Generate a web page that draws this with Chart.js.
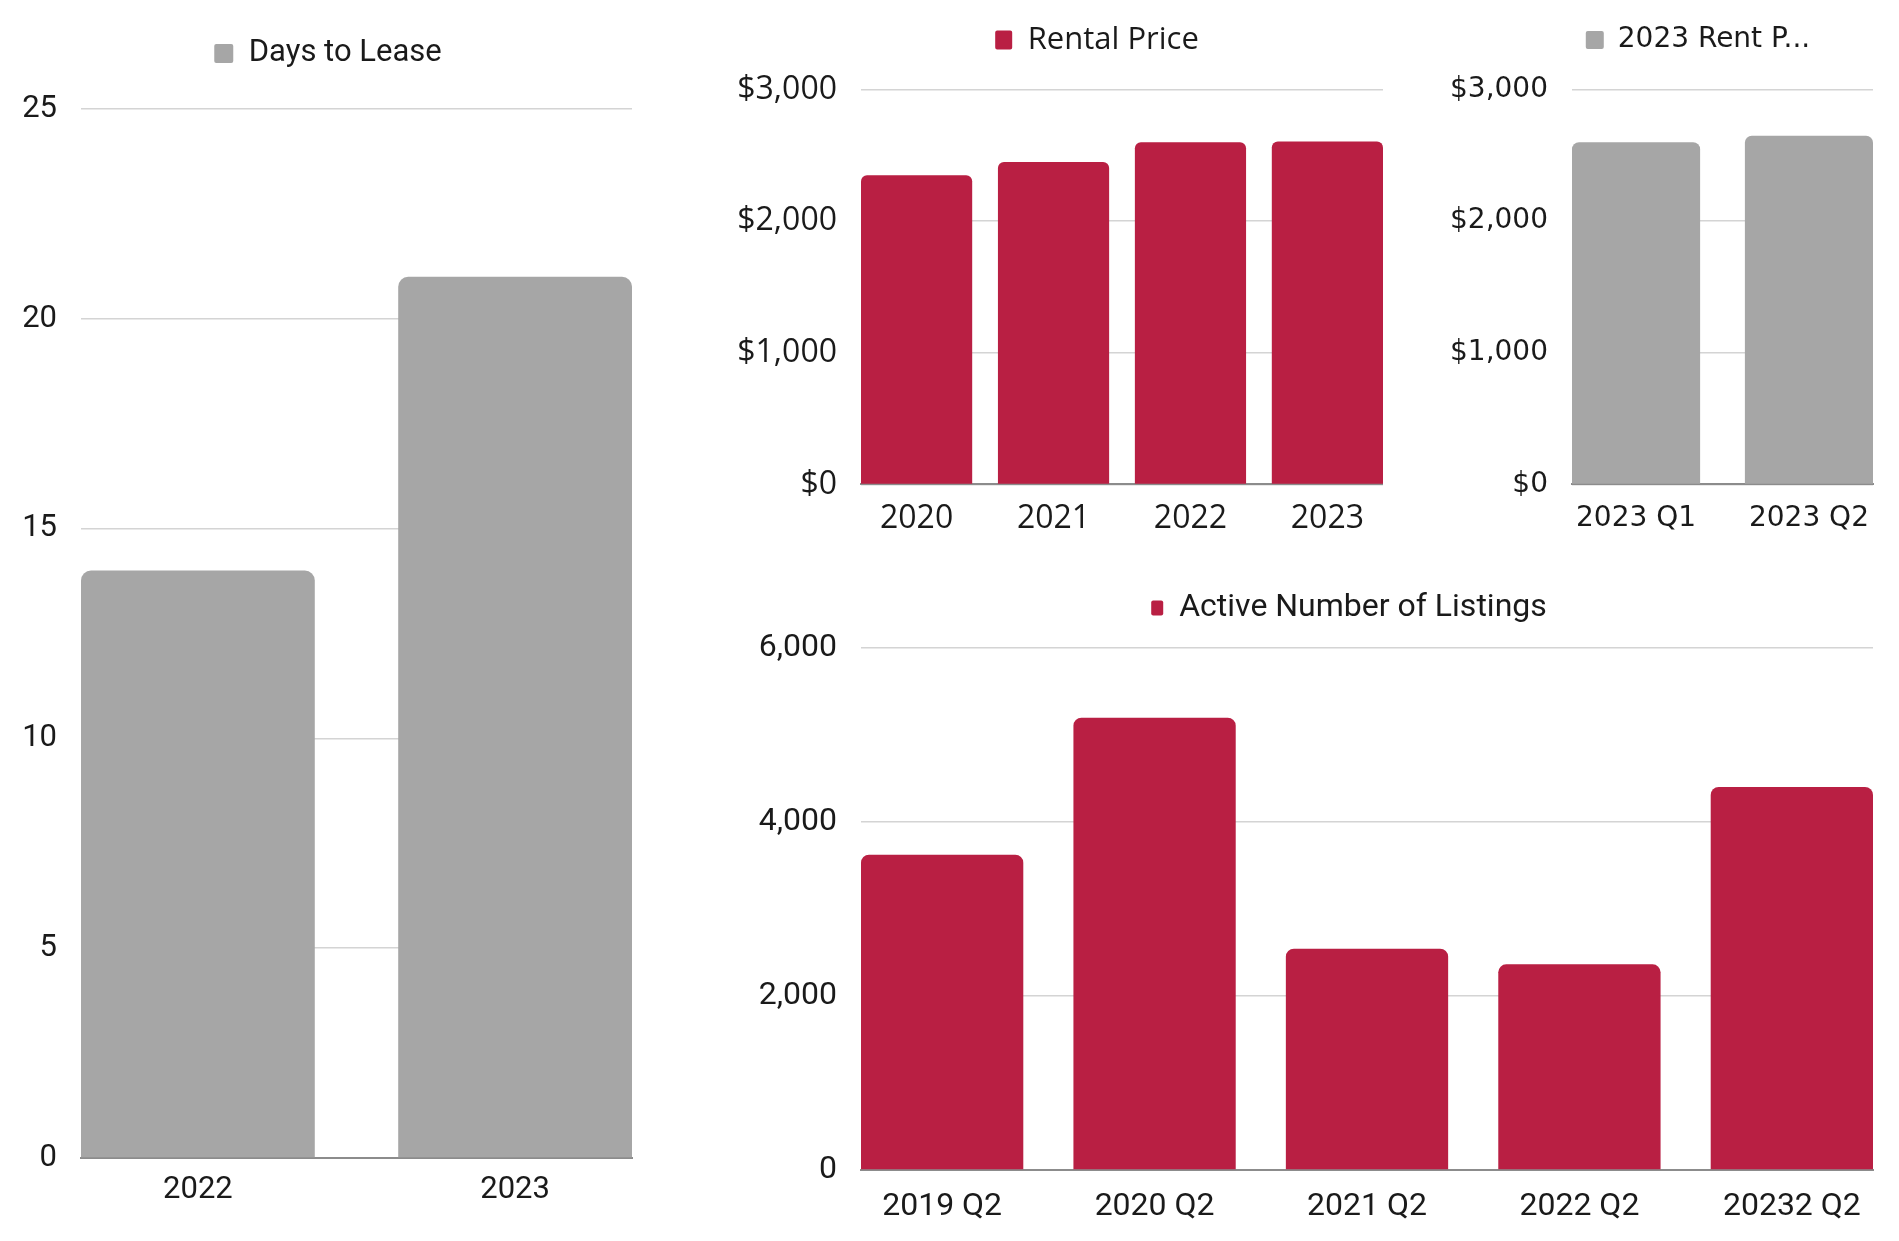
<!DOCTYPE html>
<html>
<head>
<meta charset="utf-8">
<script src="https://cdn.jsdelivr.net/npm/chart.js@4.4.1/dist/chart.umd.min.js"></script>
<style>
  html, body { margin: 0; padding: 0; background: #fff; width: 1899px; height: 1241px; overflow: hidden; }
  canvas { position: absolute; }
</style>
</head>
<body>
<canvas id="c-days" width="680" height="1241" style="left:0;top:0"></canvas>
<canvas id="c-rent" width="683" height="560" style="left:700px;top:0"></canvas>
<canvas id="c-rent23" width="479" height="560" style="left:1420px;top:0"></canvas>
<canvas id="c-listings" width="1199" height="681" style="left:700px;top:560px"></canvas>
<script>
// ── DATA ────────────────────────────────────────────────────
const leaseYears      = ['2022', '2023'];
const daysToLease     = [14, 21];
const daysTicks       = [0, 5, 10, 15, 20, 25];

const rentYears       = ['2020', '2021', '2022', '2023'];
const rentalPrice     = [2350, 2450, 2600, 2605];
const rentTicks       = [0, 1000, 2000, 3000];

const rentQuarters    = ['2023 Q1', '2023 Q2'];
const rentPrice2023   = [2600, 2650];

const listingQuarters = ['2019 Q2', '2020 Q2', '2021 Q2', '2022 Q2', '20232 Q2'];
const activeListings  = [3625, 5200, 2545, 2365, 4405];
const listingTicks    = [0, 2000, 4000, 6000];

// ── STYLE ───────────────────────────────────────────────────
const red = '#B91F43', grey = '#A6A6A6';
const gridCol = '#D4D4D4', baseCol = '#8C8C8C';
const ink = '#1A1A1A';

// legend sits further above the plot than Chart.js does by default,
// and is centred on its own x rather than on the padded canvas
function legendTweak(gap, centerX) {
  return {
    id: 'legendTweak',
    beforeInit(chart) {
      if (!chart.legend) return;
      const fit = chart.legend.fit;
      chart.legend.fit = function () { fit.call(this); this.height += gap; };
    },
    afterLayout(chart) {
      const l = chart.legend;
      if (!l) return;
      const dx = centerX - (l.left + l.right) / 2;
      l.left += dx; l.right += dx;
    }
  };
}

// bars flush with both ends of the plot, like the source charts
function flushBars(id, o) {
  const n = o.labels.length;
  const font = { family: o.family, size: o.size };
  const tickFont = { family: o.family, size: o.tickSize || o.size };
  return new Chart(document.getElementById(id), {
    type: 'bar',
    data: {
      datasets: [{
        label: o.label,
        data: o.values.map((v, i) => ({ x: i, y: v })),
        backgroundColor: o.color,
        borderWidth: 0,
        borderRadius: { topLeft: o.radius, topRight: o.radius, bottomLeft: 0, bottomRight: 0 },
        borderSkipped: 'start',
        categoryPercentage: 1,
        barPercentage: o.ratio
      }]
    },
    options: {
      responsive: false,
      animation: false,
      layout: { padding: { left: o.padL, right: o.padR, top: 0, bottom: 0 } },
      plugins: {
        tooltip: { enabled: false },
        legend: {
          position: 'top',
          labels: {
            font, color: ink, padding: o.legPad,
            boxWidth: o.box[0], boxHeight: o.box[1],
            useBorderRadius: true, borderRadius: 2
          }
        }
      },
      scales: {
        x: {
          type: 'linear',
          offset: false,
          min: -o.ratio / 2,
          max: n - 1 + o.ratio / 2,
          z: 1,
          grid: { display: false, offset: false },
          border: { display: true, color: baseCol, width: 2 },
          afterBuildTicks: s => { s.ticks = o.labels.map((l, i) => ({ value: i })); },
          afterFit: s => { s.height = o.xHeight; },
          ticks: {
            font: tickFont, color: ink, padding: o.xPad, maxRotation: 0, autoSkip: false,
            callback: v => o.labels[Math.round(v)]
          }
        },
        y: {
          min: o.ticks[0],
          max: o.ticks[o.ticks.length - 1],
          border: { display: false },
          grid: { color: gridCol, lineWidth: 1.5, drawTicks: false },
          afterBuildTicks: s => { s.ticks = o.ticks.map(v => ({ value: v })); },
          afterFit: s => { s.width = o.yWidth; },
          ticks: { font: tickFont, color: ink, padding: 24, callback: o.fmt }
        }
      }
    },
    plugins: [legendTweak(o.gap, o.legendX)]
  });
}

const dollars = v => '$' + v.toLocaleString('en-US');
const plain   = v => v.toLocaleString('en-US');

// ── RENDER ──────────────────────────────────────────────────
flushBars('c-days', {
  label: 'Days to Lease', labels: leaseYears, values: daysToLease, ticks: daysTicks, fmt: plain,
  color: grey, radius: 10, ratio: 0.737, family: 'Roboto', size: 31, box: [19, 19],
  padL: 10, padR: 48, yWidth: 71, xHeight: 83, xPad: 6, legPad: 37.9, gap: 30.1, legendX: 328
});

flushBars('c-rent', {
  label: 'Rental Price', labels: rentYears, values: rentalPrice, ticks: rentTicks, fmt: dollars,
  color: red, radius: 6, ratio: 0.812, family: 'Open Sans', size: 31, tickSize: 32, box: [17, 19],
  padL: 30, padR: 0, yWidth: 131, xHeight: 75.6, xPad: 7, legPad: 24.4, gap: 24.2, legendX: 397
});

flushBars('c-rent23', {
  label: '2023 Rent P...', labels: rentQuarters, values: rentPrice2023, ticks: rentTicks, fmt: dollars,
  color: grey, radius: 7, ratio: 0.741, family: 'DejaVu Sans', size: 28, box: [18, 18],
  padL: 20, padR: 26, yWidth: 132, xHeight: 75.6, xPad: 10, legPad: 25.9, gap: 25.7, legendX: 278
});

flushBars('c-listings', {
  label: 'Active Number of Listings', labels: listingQuarters, values: activeListings, ticks: listingTicks, fmt: plain,
  color: red, radius: 8, ratio: 0.764, family: 'Roboto', size: 32, box: [12, 15],
  padL: 40, padR: 26, yWidth: 121, xHeight: 71, xPad: 10, legPad: 31.9, gap: 14.3, legendX: 649
});
</script>
</body>
</html>
